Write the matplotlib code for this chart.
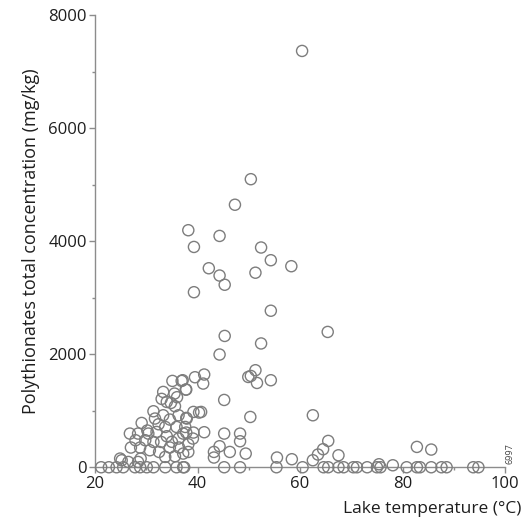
import matplotlib
matplotlib.use("Agg")
import matplotlib.pyplot as plt
from matplotlib.ticker import MultipleLocator

plt.rcParams["font.family"] = ["Open Sans", "DejaVu Sans"]

# === data: lake temperature (C) vs polythionates (mg/kg) ===
temp_high = [60.4, 50.4, 47.3, 38.2, 44.3, 39.3, 52.4, 54.3, 58.3, 42.2,
             44.3, 51.3, 45.3, 39.3, 54.3, 65.4, 45.3, 52.4, 44.3, 51.3,
             50.4, 54.3, 41.3, 39.5, 49.9, 41.1, 51.6, 45.2, 40.7, 50.3,
             62.5, 41.3, 45.2, 48.3, 48.3, 44.3, 43.2, 43.2, 46.3, 49.4,
             55.5, 58.4, 62.5, 63.5, 64.5, 65.5, 67.5, 75.4, 78.1, 82.8,
             85.6, 37.1, 37.8, 39.2, 40.3, 37.8, 37.8, 39.2, 39.1, 38.2,
             38.2]
conc_high = [7368, 5098, 4646, 4195, 4094, 3899, 3889, 3664, 3558, 3522,
             3393, 3443, 3230, 3098, 2770, 2395, 2324, 2191, 1995, 1717,
             1616, 1540, 1641, 1593, 1598, 1481, 1492, 1191, 979, 890,
             920, 620, 596, 596, 460, 372, 271, 172, 271, 242,
             172, 142, 124, 225, 319, 466, 212, 53, 35, 360,
             313, 1540, 1375, 979, 968, 873, 614, 614, 508, 407,
             271]

temp_cluster = [35.1, 36.9, 33.3, 35.5, 37.7, 34.8, 34.0, 35.6, 31.4, 31.7,
                33.3, 36.3, 37.9, 29.1, 34.6, 32.4, 33.7, 35.9, 37.6, 26.8,
                28.4, 30.4, 32.0, 34.0, 36.3, 37.2, 27.9, 29.8, 31.4, 32.9,
                34.6, 36.4, 27.0, 28.8, 30.7, 32.5, 33.7, 35.6, 37.2, 28.9,
                24.9, 26.5, 28.4, 25.2, 33.0, 36.0, 30.2, 35.0]
conc_cluster = [1528, 1528, 1333, 1304, 1375, 1138, 1156, 1080, 991, 862,
                920, 920, 862, 784, 844, 761, 713, 713, 713, 596,
                596, 596, 625, 549, 508, 596, 478, 478, 448, 448,
                349, 349, 349, 349, 301, 271, 183, 195, 242, 154,
                154, 94, 94, 124, 1210, 1240, 650, 450]

temp_zero = [21.2, 22.7, 24.2, 25.5, 27.8, 28.8, 30.1, 31.4, 33.7, 35.9,
             37.2, 37.4, 45.2, 48.3, 55.4, 60.5, 64.6, 65.5, 67.5, 68.5,
             70.4, 71.1, 73.1, 75.0, 75.7, 80.8, 82.8, 83.4, 85.6, 87.6,
             88.6, 93.8, 94.8]
conc_zero = [0] * len(temp_zero)

temps = temp_high + temp_cluster + temp_zero
concs = conc_high + conc_cluster + conc_zero

# === figure ===
fig = plt.figure(figsize=(5.25, 5.25), dpi=100)
ax = fig.add_axes([0.181, 0.110, 0.781, 0.861])

ax.scatter(temps, concs, s=64, facecolors="none", edgecolors="#7d7d7d",
           linewidths=1.0, clip_on=False, zorder=3)

ax.set_xlim(20, 100)
ax.set_ylim(0, 8000)
ax.set_xticks([20, 40, 60, 80, 100])
ax.set_yticks([0, 2000, 4000, 6000, 8000])
ax.xaxis.set_minor_locator(MultipleLocator(10))
ax.yaxis.set_minor_locator(MultipleLocator(1000))

for side in ["top", "right"]:
    ax.spines[side].set_visible(False)
for side in ["left", "bottom"]:
    ax.spines[side].set_color("#8c8c8c")
    ax.spines[side].set_linewidth(1.0)

ax.tick_params(which="major", length=4, width=1, color="#8c8c8c",
               labelsize=12, labelcolor="#1e1e1e", pad=2)
ax.tick_params(which="minor", length=2.5, width=1, color="#8c8c8c")

ax.set_ylabel("Polythionates total concentration (mg/kg)", fontsize=13,
              color="#1e1e1e", labelpad=6)
ax.set_xlabel("Lake temperature (\u00b0C)", fontsize=12.5, color="#1e1e1e",
              loc="right", labelpad=9)
ax.xaxis.set_label_coords(1.04, -0.075)

fig.text(0.962, 0.117, "6997", rotation=90, fontsize=6.5, color="#444444",
         ha="left", va="bottom")

fig.savefig("out.png", dpi=100)
